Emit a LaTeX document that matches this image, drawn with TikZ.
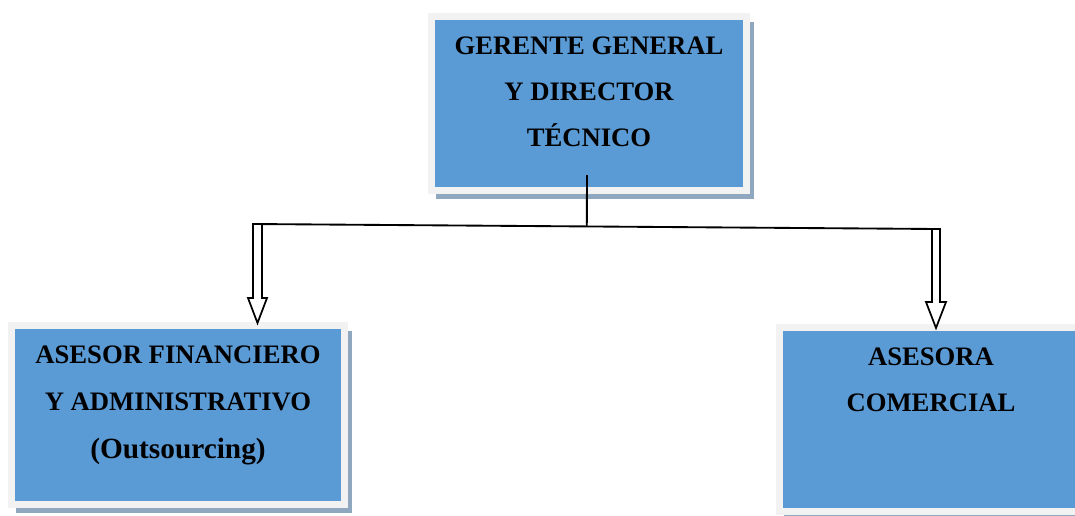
\documentclass[tikz,border=0pt]{standalone}
\usepackage{fontspec}
\setmainfont{Liberation Serif}
\usetikzlibrary{backgrounds,calc}
\definecolor{boxblue}{HTML}{5B9BD5}
\definecolor{framegray}{HTML}{F2F2F2}
\definecolor{shadowc}{HTML}{8FA8C0}
\tikzset{
  box/.style={fill=boxblue, draw=framegray, line width=5.25pt, inner sep=0pt, outer sep=0pt},
  boxtext/.style={anchor=north, inner sep=0pt, align=center, text=black,
    font=\fontsize{20pt}{34.5pt}\selectfont\bfseries},
  conn/.style={draw=black, line width=1.4pt},
  blockarrow/.style={draw=black, fill=white, line width=1.3pt, line join=miter},
}
\newcommand{\boxshadow}[1]{%
  \fill[shadowc] ([xshift=3pt,yshift=-3.75pt]#1.north west) rectangle ([xshift=5.6pt,yshift=-6.4pt]#1.south east);}
\begin{document}
\begin{tikzpicture}[x=0.75pt,y=-0.75pt]
\useasboundingbox (0,0) rectangle (1075,515);
\clip (0,0) rectangle (1075,515);
% boxes
\node[box, minimum width=236.25pt, minimum height=130.5pt] (gg) at (589,103.5) {};
\node[box, minimum width=249.75pt, minimum height=134.25pt] (fa) at (178,415) {};
\node[box, minimum width=227.25pt, minimum height=138pt] (ac) at (931,419.5) {};
\begin{scope}[on background layer]
  \boxshadow{gg}
  \boxshadow{fa}
  \boxshadow{ac}
\end{scope}
% texts
\node[boxtext] (ggt) at (589,37) {GERENTE GENERAL\\Y DIRECTOR\\TÉCNICO};
\node[boxtext, font=\fontsize{20pt}{35.5pt}\selectfont\bfseries] (fat) at (178,345.5) {ASESOR FINANCIERO\\Y ADMINISTRATIVO\\{\fontsize{22pt}{35.5pt}\selectfont (Outsourcing)}};
\node[boxtext] (act) at (931,348) {ASESORA\\COMERCIAL};
% connectors
\coordinate (hl) at (253,224);
\coordinate (hr) at (937,229);
\coordinate (j) at ($(hl)!0.488!(hr)$);
\draw[conn] ([xshift=-1.5pt,yshift=11.6pt]gg.south) -- (j);
\draw[conn] (hl) -- (hr);
\draw[blockarrow] (hl) -- ++(0,74) -- ++(-5,0) -- ++(9.5,25) -- ++(9.5,-25) -- ++(-5,0) -- ++(0,-74) -- cycle;
\draw[blockarrow] ([xshift=-3.75pt]hr) -- ++(0,73) -- ++(-6,0) -- ++(10,26) -- ++(10,-26) -- ++(-6,0) -- ++(0,-73) -- cycle;
\end{tikzpicture}
\end{document}
